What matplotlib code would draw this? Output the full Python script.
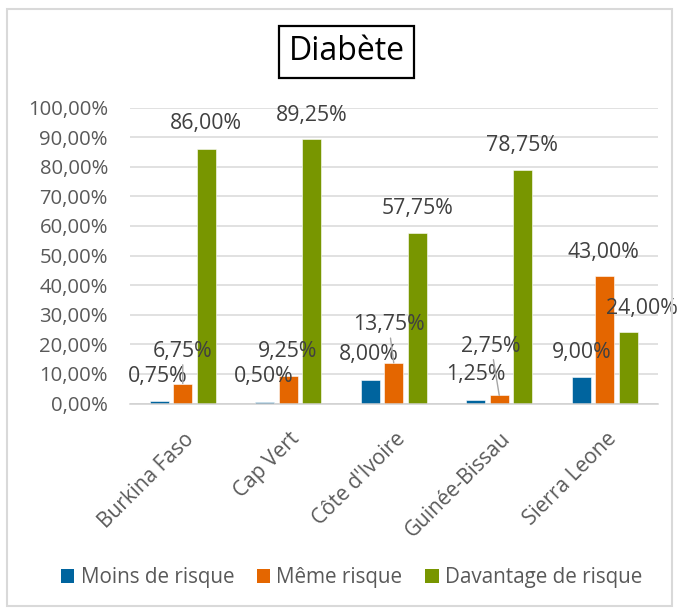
import matplotlib
matplotlib.use("Agg")
import matplotlib.pyplot as plt
from matplotlib.patches import Rectangle, Patch

# ---- data ----
categories = ["Burkina Faso", "Cap Vert", "Côte d'Ivoire", "Guinée-Bissau", "Sierra Leone"]
series_names = ["Moins de risque", "Même risque", "Davantage de risque"]
moins_de_risque = [0.75, 0.50, 8.00, 1.25, 9.00]
meme_risque = [6.75, 9.25, 13.75, 2.75, 43.00]
davantage_de_risque = [86.00, 89.25, 57.75, 78.75, 24.00]
y_ticks = [0, 10, 20, 30, 40, 50, 60, 70, 80, 90, 100]
title = "Diabète"

# ---- style ----
colors = ["#00649E", "#E46600", "#789600"]
FONT = "Open Sans"
plt.rcParams['font.family'] = [FONT, 'DejaVu Sans']

# label offsets in pixels (dx, dy up) relative to bar top center
label_offsets = [
    [(-2, 25), (-1, 25.5), (-1, 25.3), (0, 25), (0, 24)],
    [(0, 32), (-1, 24.4), (-5, 38), (-8, 49), (-1, 24)],
    [(0, 25), (0, 24.3), (0, 24), (-0.5, 24.5), (14, 24)],
]
leaders = [
    [False] * 5,
    [True, False, True, True, False],
    [False] * 5,
]

W, H, DPI = 679, 613, 100
fig = plt.figure(figsize=(W / DPI, H / DPI), dpi=DPI)
PX = 72 / DPI  # points per pixel

ax = fig.add_axes([130 / W, 1 - 403.5 / H, (657.5 - 130) / W, (403.5 - 107.5) / H])

series = [moins_de_risque, meme_risque, davantage_de_risque]
offsets = [-0.223, 0.0, 0.223]
bw = 0.18
x = list(range(len(categories)))

for s, (vals, off, col) in enumerate(zip(series, offsets, colors)):
    xs = [i + off for i in x]
    ax.bar(xs, vals, width=bw, color=col, edgecolor="white", linewidth=0.4, zorder=3)
    for i, v in enumerate(vals):
        dx, dy = label_offsets[s][i]
        txt = f"{v:.2f}%".replace(".", ",")
        kw = {}
        if leaders[s][i]:
            kw["arrowprops"] = dict(arrowstyle="-", color="#A6A6A6", lw=1.0,
                                    shrinkA=0, shrinkB=0)
        ax.annotate(txt, xy=(xs[i], v), xytext=(dx * PX, dy * PX),
                    textcoords="offset points", ha="center", va="center",
                    fontsize=15.3, color="#404040", zorder=5,
                    annotation_clip=False, **kw)

ax.set_xlim(-0.5, len(categories) - 0.5)
ax.set_ylim(0, 100)
ax.set_yticks(y_ticks)
ax.set_yticklabels([f"{t:.2f}%".replace(".", ",") for t in y_ticks],
                   fontsize=14.6, color="#595959")
ax.tick_params(axis="y", length=0, pad=22 * PX)
ax.set_xticks(x)
ax.set_xticklabels([])
ax.tick_params(axis="x", length=0)
for i, c in enumerate(categories):
    ax.annotate(c, xy=(i, 0), xycoords=("data", "axes fraction"),
                xytext=(1 * PX, -25 * PX), textcoords="offset points",
                rotation=45, ha="right", va="top", rotation_mode="anchor",
                fontsize=15, color="#595959", annotation_clip=False)

ax.grid(axis="y", color="#D9D9D9", lw=1.1, zorder=0)
ax.set_axisbelow(True)
for sp in ["top", "right", "left"]:
    ax.spines[sp].set_visible(False)
ax.spines["bottom"].set_color("#D0D0D0")
ax.spines["bottom"].set_linewidth(1.1)
ax.spines["bottom"].set_zorder(4)

# title with box
fig.text(346.5 / W, 1 - 52 / H, title, ha="center", va="center",
         fontsize=23, color="black",
         bbox=dict(boxstyle="square,pad=0.3", fc="white", ec="black", lw=1.6))

# legend
handles = [Patch(facecolor=c, edgecolor="none") for c in colors]
fig.legend(handles, series_names, loc="center", bbox_to_anchor=(351.5 / W, 1 - 578 / H),
           ncol=3, frameon=False, fontsize=14.9, labelcolor="#595959",
           handlelength=0.65, handleheight=0.65, handletextpad=0.3,
           columnspacing=1.1, borderaxespad=0)

# chart border
fig.patches.append(Rectangle((7 / W, 1 - 606 / H), (672 - 7) / W, (606 - 9) / H,
                             transform=fig.transFigure, fill=False,
                             ec="#D9D9D9", lw=1.5))

fig.savefig("out.png", dpi=DPI, facecolor="white")
